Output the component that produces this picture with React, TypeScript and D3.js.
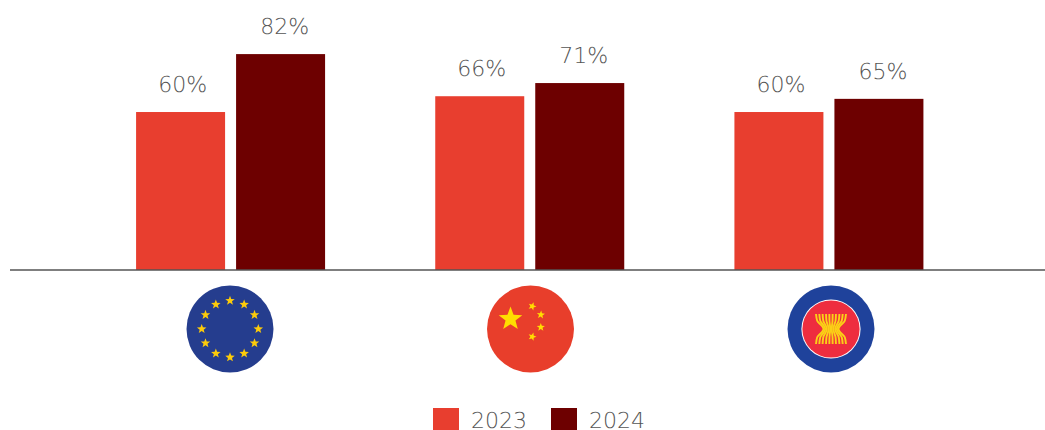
import React from "react";
import * as d3 from "d3";

const W = 1045;
const H = 430;
const regions = ["EU", "China", "ASEAN"];
const years = ["2023", "2024"];
const values2023 = [60, 66, 60];
const values2024 = [82, 71, 65];
const seriesValues = [values2023, values2024];
const colors = ["#e83e2f", "#6d0000"];
const labelColor = "#555555";
const fontFamily = "'DejaVu Sans', sans-serif";

const euStarCount = 12;
const chinaSmallStars = [
  [1.7, -22.7, 0.35],
  [10.3, -14.3, 0.1],
  [10.3, -1.7, 0],
  [1.7, 7.7, 0.3],
];
// Signed spread of each grain stalk across the bundle.
const stalks = [-1, -0.78, -0.56, -0.33, -0.11, 0.11, 0.33, 0.56, 0.78, 1];

const x0 = d3.scaleBand<string>().domain(regions).range([81, 978.5]);
const x1 = d3.scaleBand<string>().domain(years).range([0, 189]).paddingInner(0.11).paddingOuter(0);
const y = d3.scaleLinear().domain([0, 100]).range([270, 6.7]);
const baseline = y(0);

function starPath(cx: number, cy: number, r: number, rot = 0): string {
  const pts: [number, number][] = d3.range(10).map((i) => {
    const rad = i % 2 === 0 ? r : r * 0.42;
    const a = -Math.PI / 2 + rot + (i * Math.PI) / 5;
    return [cx + rad * Math.cos(a), cy + rad * Math.sin(a)];
  });
  return (d3.line()(pts) as string) + "Z";
}

const stalkLine = d3.line<[number, number]>().curve(d3.curveMonotoneY);

function EUFlag({ cx, cy }: { cx: number; cy: number }) {
  return (
    <g>
      <circle cx={cx} cy={cy} r={43.5} fill="#253d8e" />
      {d3.range(euStarCount).map((i) => {
        const a = (i * 2 * Math.PI) / euStarCount;
        return (
          <path
            key={i}
            d={starPath(cx + 28.3 * Math.sin(a), cy - 28.3 * Math.cos(a), 5)}
            fill="#fdcb0a"
          />
        );
      })}
    </g>
  );
}

function ChinaFlag({ cx, cy }: { cx: number; cy: number }) {
  return (
    <g>
      <circle cx={cx} cy={cy} r={43.5} fill="#e83e2b" />
      <path d={starPath(cx - 20, cy - 10, 12.4)} fill="#ffdd00" />
      {chinaSmallStars.map(([dx, dy, rot], i) => (
        <path key={i} d={starPath(cx + dx, cy + dy, 4.3, rot)} fill="#ffdd00" />
      ))}
    </g>
  );
}

function AseanFlag({ cx, cy }: { cx: number; cy: number }) {
  const half = 15;
  return (
    <g>
      <circle cx={cx} cy={cy} r={43.5} fill="#1f429b" />
      <circle cx={cx} cy={cy} r={29.6} fill="#ffffff" />
      <circle cx={cx} cy={cy} r={28.6} fill="#ee2d3f" />
      {stalks.map((s, i) => {
        const pts: [number, number][] = [
          [cx + s * half, cy - half],
          [cx + s * half * 0.92, cy - half * 0.55],
          [cx + s * half * 0.6, cy - half * 0.2],
          [cx + s * half * 0.5, cy],
          [cx + s * half * 0.6, cy + half * 0.2],
          [cx + s * half * 0.92, cy + half * 0.55],
          [cx + s * half, cy + half],
        ];
        return (
          <path key={i} d={stalkLine(pts) as string} fill="none" stroke="#fbd116" strokeWidth={1.9} />
        );
      })}
    </g>
  );
}

const flags = [EUFlag, ChinaFlag, AseanFlag];
const flagCenters = [230, 530.5, 831];
const flagY = 329;

const legendX = [433, 551];
const labelShift = [2, 4];

export default function App() {
  return (
    <svg
      width={W}
      height={H}
      viewBox={`0 0 ${W} ${H}`}
      style={{ position: "absolute", left: 0, top: 0, background: "#fff" }}
      fontFamily={fontFamily}
      fontWeight={200}
      textRendering="geometricPrecision"
    >
      {regions.map((region, r) => (
        <g key={region} transform={`translate(${x0(region)},0)`}>
          <g transform={`translate(${(x0.bandwidth() - 189) / 2},0)`}>
            {years.map((year, s) => {
              const v = seriesValues[s][r];
              const bx = x1(year) as number;
              return (
                <g key={year}>
                  <rect
                    x={bx}
                    y={y(v)}
                    width={x1.bandwidth()}
                    height={baseline - y(v)}
                    fill={colors[s]}
                  />
                  <text
                    x={bx + x1.bandwidth() / 2 + labelShift[s]}
                    y={y(v) - 20}
                    textAnchor="middle"
                    fontSize={22}
                    fill={labelColor}
                  >
                    {v}%
                  </text>
                </g>
              );
            })}
          </g>
        </g>
      ))}
      <line x1={10} x2={1045} y1={baseline} y2={baseline} stroke="#555555" strokeWidth={1.5} />
      {flags.map((Flag, i) => (
        <Flag key={i} cx={flagCenters[i]} cy={flagY} />
      ))}
      {years.map((year, i) => (
        <g key={year}>
          <rect x={legendX[i]} y={408} width={26} height={22} fill={colors[i]} />
          <text x={legendX[i] + 38} y={428} fontSize={22} fill={labelColor}>
            {year}
          </text>
        </g>
      ))}
    </svg>
  );
}
